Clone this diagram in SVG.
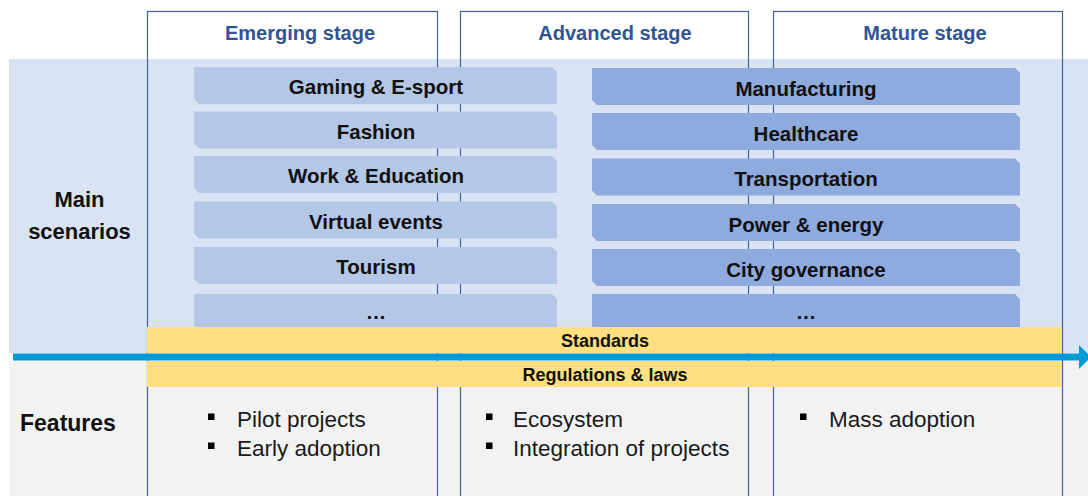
<svg xmlns="http://www.w3.org/2000/svg" width="1088" height="496" viewBox="0 0 1088 496">
  <style>
    .band-blue { fill: #DAE3F3; }
    .band-grey { fill: #F2F2F2; }
    .col { fill: none; stroke: #3F62A0; stroke-width: 1.2; }
    .hdr { font-family: "Liberation Sans", Arial, sans-serif; font-weight: bold; font-size: 20px; fill: #2F5597; text-anchor: middle; }
    .barL { fill: #B4C7E7; }
    .barR { fill: #8FAADC; }
    .bar-t { font-family: "Liberation Sans", Arial, sans-serif; font-weight: bold; font-size: 20.5px; fill: #111; text-anchor: middle; }
    .yel { fill: #FFDF80; }
    .yel-t { font-family: "Liberation Sans", Arial, sans-serif; font-weight: bold; font-size: 18px; fill: #111; text-anchor: middle; }
    .row-t { font-family: "Liberation Sans", Arial, sans-serif; font-weight: bold; font-size: 22px; fill: #111; }
    .feat { font-family: "Liberation Sans", Arial, sans-serif; font-size: 22.5px; fill: #1a1a1a; }
    .bul { fill: #000; }
    .axis { stroke: #009AD6; stroke-width: 7; fill: none; }
  </style>
  <defs>
    <path id="shapeL" d="M0,0 H358 L363,5 V37 H5 L0,32 Z"/>
    <path id="shapeR" d="M0,0 H423 L428,5 V37 H5 L0,32 Z"/>
    <marker id="arrowHead" markerUnits="userSpaceOnUse" markerWidth="14" markerHeight="24" refX="0" refY="12" orient="auto">
      <path d="M0,0 L12,12 L0,24 Z" fill="#009AD6"/>
    </marker>
  </defs>

  <rect width="1088" height="496" fill="#FFFFFF"/>

  <g id="band-scenarios">
    <rect class="band-blue" x="9" y="59" width="1079" height="294"/>
  </g>
  <g id="band-features">
    <rect class="band-grey" x="9" y="361" width="1079" height="135"/>
  </g>

  <g id="col-emerging">
    <rect class="col" x="147.5" y="11.5" width="290" height="490"/>
    <text class="hdr" x="300" y="40">Emerging stage</text>
  </g>
  <g id="col-advanced">
    <rect class="col" x="460.5" y="11.5" width="288" height="490"/>
    <text class="hdr" x="615" y="40">Advanced stage</text>
  </g>
  <g id="col-mature">
    <rect class="col" x="773.5" y="11.5" width="289" height="490"/>
    <text class="hdr" x="925" y="40">Mature stage</text>
  </g>

  <g id="label-main-scenarios">
    <text class="row-t" x="79.5" y="207" text-anchor="middle">Main</text>
    <text class="row-t" x="79.5" y="239" text-anchor="middle">scenarios</text>
  </g>
  <g id="label-features">
    <text class="row-t" x="20" y="431" style="font-size:23px">Features</text>
  </g>

  <g id="s-gaming"><use href="#shapeL" class="barL" x="194" y="67"/><text class="bar-t" x="376" y="94">Gaming &amp; E-sport</text></g>
  <g id="s-fashion"><use href="#shapeL" class="barL" x="194" y="111.5"/><text class="bar-t" x="376" y="138.5">Fashion</text></g>
  <g id="s-work"><use href="#shapeL" class="barL" x="194" y="156"/><text class="bar-t" x="376" y="183">Work &amp; Education</text></g>
  <g id="s-virtual"><use href="#shapeL" class="barL" x="194" y="201.5"/><text class="bar-t" x="376" y="228.5">Virtual events</text></g>
  <g id="s-tourism"><use href="#shapeL" class="barL" x="194" y="247"/><text class="bar-t" x="376" y="274">Tourism</text></g>
  <g id="s-more-left"><use href="#shapeL" class="barL" x="194" y="294"/><text class="bar-t" x="376" y="319">…</text></g>

  <g id="s-manufacturing"><use href="#shapeR" class="barR" x="592" y="68"/><text class="bar-t" x="806" y="95.5">Manufacturing</text></g>
  <g id="s-healthcare"><use href="#shapeR" class="barR" x="592" y="113"/><text class="bar-t" x="806" y="140.5">Healthcare</text></g>
  <g id="s-transportation"><use href="#shapeR" class="barR" x="592" y="158.5"/><text class="bar-t" x="806" y="186">Transportation</text></g>
  <g id="s-power"><use href="#shapeR" class="barR" x="592" y="204"/><text class="bar-t" x="806" y="231.5">Power &amp; energy</text></g>
  <g id="s-city"><use href="#shapeR" class="barR" x="592" y="249"/><text class="bar-t" x="806" y="276.5">City governance</text></g>
  <g id="s-more-right"><use href="#shapeR" class="barR" x="592" y="294"/><text class="bar-t" x="806" y="319">…</text></g>

  <g id="standards">
    <rect class="yel" x="147" y="327" width="915" height="26"/>
    <text class="yel-t" x="605" y="347">Standards</text>
  </g>
  <g id="regulations">
    <rect class="yel" x="147" y="361" width="915" height="26"/>
    <text class="yel-t" x="605" y="380.5">Regulations &amp; laws</text>
  </g>

  <g id="features-emerging">
    <rect class="bul" x="208" y="413.5" width="6.5" height="6.5"/>
    <text class="feat" x="237" y="426.5">Pilot projects</text>
    <rect class="bul" x="208" y="442.5" width="6.5" height="6.5"/>
    <text class="feat" x="237" y="455.5">Early adoption</text>
  </g>
  <g id="features-advanced">
    <rect class="bul" x="486" y="413.5" width="6.5" height="6.5"/>
    <text class="feat" x="513" y="426.5">Ecosystem</text>
    <rect class="bul" x="486" y="442.5" width="6.5" height="6.5"/>
    <text class="feat" x="513" y="455.5">Integration of projects</text>
  </g>
  <g id="features-mature">
    <rect class="bul" x="800" y="413.5" width="6.5" height="6.5"/>
    <text class="feat" x="829" y="426.5">Mass adoption</text>
  </g>

  <g id="connectors">
    <line class="axis" x1="13" y1="357" x2="1079" y2="357" marker-end="url(#arrowHead)"/>
  </g>
</svg>
